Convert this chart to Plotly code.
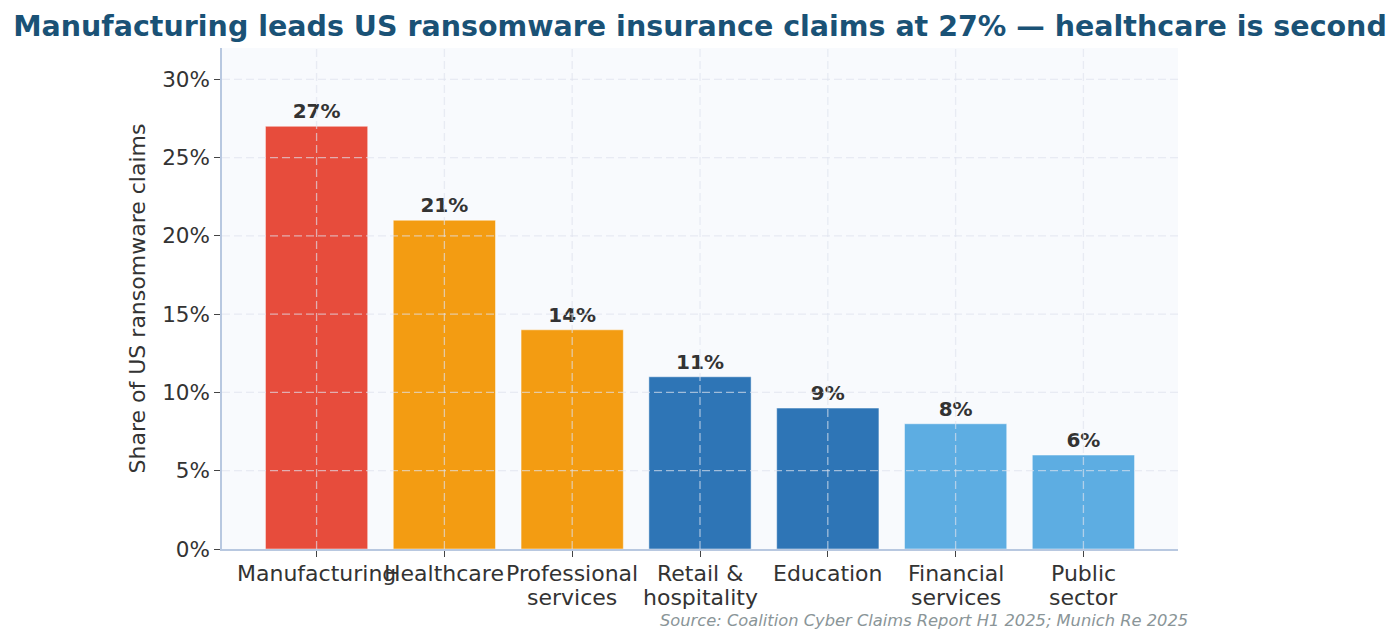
import plotly.graph_objects as go

categories = ["Manufacturing", "Healthcare", "Professional<br>services", "Retail &<br>hospitality",
              "Education", "Financial<br>services", "Public<br>sector"]
shares = [27, 21, 14, 11, 9, 8, 6]
bar_colors = ["#e74c3c", "#f39c12", "#f39c12", "#2e75b6", "#2e75b6", "#5dade2", "#5dade2"]
y_ticks = [0, 5, 10, 15, 20, 25, 30]
title_text = "Manufacturing leads US ransomware insurance claims at 27% — healthcare is second"
source_text = "Source: Coalition Cyber Claims Report H1 2025; Munich Re 2025"

FONT = "DejaVu Sans"
x_idx = list(range(len(categories)))

fig = go.Figure()
fig.add_trace(go.Bar(
    x=x_idx, y=shares,
    marker=dict(color=bar_colors, line=dict(color="rgba(255,255,255,0.6)", width=0.8)),
    text=[f"{v}%" for v in shares],
    textposition="outside",
    textfont=dict(family=FONT, size=20, color="#333333", weight="bold"),
    cliponaxis=False,
    hoverinfo="skip",
))

grid_style = dict(color="rgba(222,228,238,0.65)", width=1.3, dash="8px,4px")
shapes = []
for t in y_ticks[1:]:
    shapes.append(dict(type="line", xref="paper", yref="y", x0=0, x1=1, y0=t, y1=t,
                       line=grid_style, layer="above"))
for i in x_idx:
    shapes.append(dict(type="line", xref="x", yref="paper", x0=i, x1=i, y0=0, y1=1,
                       line=grid_style, layer="above"))

# category labels as text lines (tighter line spacing than plotly's default)
annotations = []
for i, cat in enumerate(categories):
    for j, line in enumerate(cat.split("<br>")):
        annotations.append(dict(text=line, xref="x", yref="paper", x=i, y=0,
                                xanchor="center", yanchor="middle", yshift=-24 - 24 * j,
                                showarrow=False,
                                font=dict(family=FONT, size=22, color="#333333")))
annotations.append(dict(text=source_text, xref="paper", yref="paper", x=1.0126, y=-0.142,
                        xanchor="right", yanchor="middle", showarrow=False,
                        font=dict(family=FONT, size=16.3, color="#8a9598", style="italic")))

fig.update_layout(
    width=1400, height=643,
    margin=dict(l=222, r=222, t=48, b=94, autoexpand=False),
    paper_bgcolor="white",
    plot_bgcolor="#f8fafd",
    bargap=0.2,
    showlegend=False,
    shapes=shapes,
    annotations=annotations,
    font=dict(family=FONT, color="#333333"),
    title=dict(text=title_text, x=0.5, xanchor="center", xref="paper", y=0.96, yanchor="middle",
               font=dict(family=FONT, size=28.5, color="#1a5276", weight="bold")),
)
fig.update_xaxes(
    range=[-0.74, 6.74], tickvals=x_idx, showticklabels=False, automargin=False,
    showgrid=False, zeroline=False,
    showline=True, linecolor="#b8c8e0", linewidth=1.5,
    ticks="outside", ticklen=6, tickwidth=1.2, tickcolor="#444444",
)
fig.update_yaxes(
    range=[0, 32], tickvals=y_ticks, ticktext=[f"{t}%" for t in y_ticks], automargin=False,
    showgrid=False, zeroline=False,
    showline=True, linecolor="#b8c8e0", linewidth=1.5,
    ticks="outside", ticklen=6, tickwidth=1.2, tickcolor="#444444",
    tickfont=dict(family=FONT, size=21.5, color="#333333"),
    title=dict(text="Share of US ransomware claims", standoff=10,
               font=dict(family=FONT, size=22, color="#333333")),
)

fig.write_html("out.html")
